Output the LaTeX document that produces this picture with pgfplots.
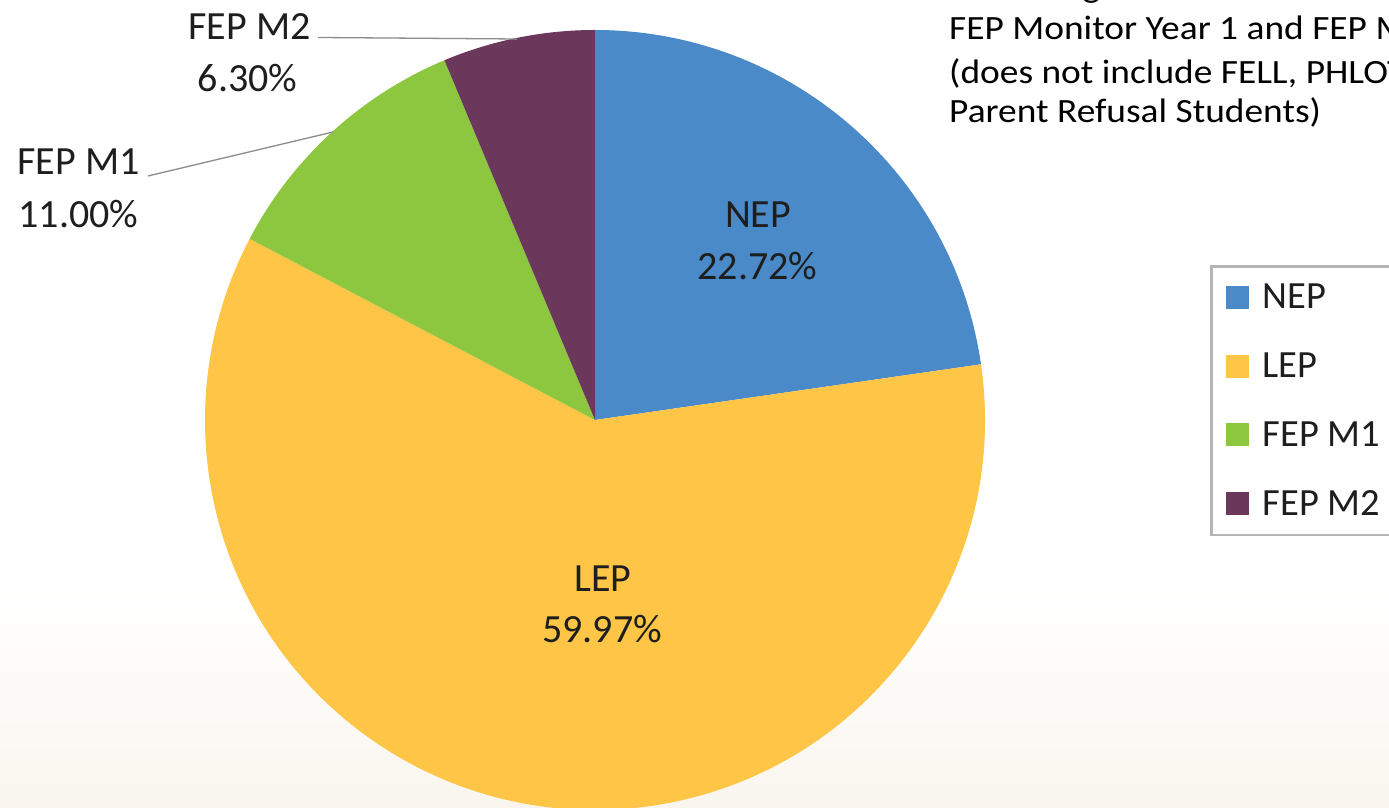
\documentclass[border=0pt]{standalone}
\usepackage{pgfplots}
\pgfplotsset{compat=1.18}
\usepackage{pgfplotstable}
\usepackage{fontspec}
\setmainfont{Carlito}
\newfontfamily\titlefont[FakeStretch=1.1]{Carlito}
\definecolor{nep}{HTML}{4A8AC9}
\definecolor{lep}{HTML}{FFC546}
\definecolor{fepone}{HTML}{8DC63F}
\definecolor{feptwo}{HTML}{6B375B}
\definecolor{bgc}{HTML}{FAF6EF}
\definecolor{leader}{HTML}{8C8C8C}
\definecolor{legbord}{HTML}{B4B4B4}
\definecolor{txt}{HTML}{1E1E1E}

\pgfplotstableread{
label value
NEP 22.72
LEP 59.97
FEPM1 11.00
FEPM2 6.30
}\piedata

\begin{document}
\begin{tikzpicture}
\useasboundingbox (0pt,0pt) rectangle (1389pt,808pt);
\clip (0pt,0pt) rectangle (1389pt,808pt);
\fill[white] (0pt,0pt) rectangle (1389pt,808pt);
\shade[top color=white, bottom color=bgc] (0pt,0pt) rectangle (1389pt,220pt);

\pgfplotstablegetelem{0}{value}\of\piedata \let\vA\pgfplotsretval
\pgfplotstablegetelem{1}{value}\of\piedata \let\vB\pgfplotsretval
\pgfplotstablegetelem{2}{value}\of\piedata \let\vC\pgfplotsretval
\pgfplotstablegetelem{3}{value}\of\piedata \let\vD\pgfplotsretval
\pgfmathsetmacro\aA{90}
\pgfmathsetmacro\aB{\aA-3.6*\vA}
\pgfmathsetmacro\aC{\aB-3.6*\vB}
\pgfmathsetmacro\aD{\aC-3.6*\vC}
\pgfmathsetmacro\aE{\aD-3.6*\vD}

\begin{axis}[
  at={(595pt,388pt)}, anchor=center,
  width=780pt, height=780pt, scale only axis,
  xmin=-1, xmax=1, ymin=-1, ymax=1,
  hide axis, clip=false,
  legend cell align=left,
  legend image code/.code={\fill[#1] (0pt,0pt) rectangle (23pt,23pt);},
  legend style={
    at={(1.2885,0.6987)}, anchor=north west,
    draw=legbord, line width=2.5pt,
    font=\fontsize{38.5}{46}\selectfont\color{txt},
    inner xsep=15pt, inner ysep=18pt,
    nodes={inner sep=0pt, anchor=base west},
    row sep=42.5pt,
    /tikz/every odd column/.append style={column sep=13.5pt},
  },
]
\fill[nep] (axis cs:0,0) -- (axis cs:{cos(\aA)},{sin(\aA)}) arc[start angle=\aA, end angle=\aB, radius=1] -- cycle;
\fill[lep] (axis cs:0,0) -- (axis cs:{cos(\aB)},{sin(\aB)}) arc[start angle=\aB, end angle=\aC, radius=1] -- cycle;
\fill[fepone] (axis cs:0,0) -- (axis cs:{cos(\aC)},{sin(\aC)}) arc[start angle=\aC, end angle=\aD, radius=1] -- cycle;
\fill[feptwo] (axis cs:0,0) -- (axis cs:{cos(\aD)},{sin(\aD)}) arc[start angle=\aD, end angle=\aE, radius=1] -- cycle;
\addlegendimage{fill=nep, draw=none}
\addlegendentry{NEP}
\addlegendimage{fill=lep, draw=none}
\addlegendentry{LEP}
\addlegendimage{fill=fepone, draw=none}
\addlegendentry{FEP M1}
\addlegendimage{fill=feptwo, draw=none}
\addlegendentry{FEP M2}
\end{axis}

\begin{scope}[x=1pt,y=1pt]
% leader lines
\draw[leader, line width=1.3pt] (318,770.5) -- (517,769);
\draw[leader, line width=1.3pt] (148,632) -- (333,676);

% data labels
\begin{scope}[every node/.style={anchor=base, inner sep=0pt, text=txt, font=\fontsize{40}{48}\selectfont}]
\node at (758,580) {NEP};
\node at (757.5,528) {22.72\%};
\node at (603,216) {LEP};
\node at (602,165) {59.97\%};
\node at (249.5,768) {FEP M2};
\node at (247.5,716) {6.30\%};
\node at (78.5,633) {FEP M1};
\node at (78.5,580) {11.00\%};
\end{scope}

% title (cropped)
\begin{scope}[every node/.style={anchor=base west, inner sep=0pt, text=black, font=\titlefont\fontsize{34}{42}\selectfont}]
\node at (949,810) {Percentage of ELLs};
\node at (949,768) {FEP Monitor Year 1 and FEP Monitor Year 2};
\node at (949,724.5) {(does not include FELL, PHLOTE, and};
\node at (949,685) {Parent Refusal Students)};
\end{scope}
\end{scope}
\end{tikzpicture}
\end{document}
